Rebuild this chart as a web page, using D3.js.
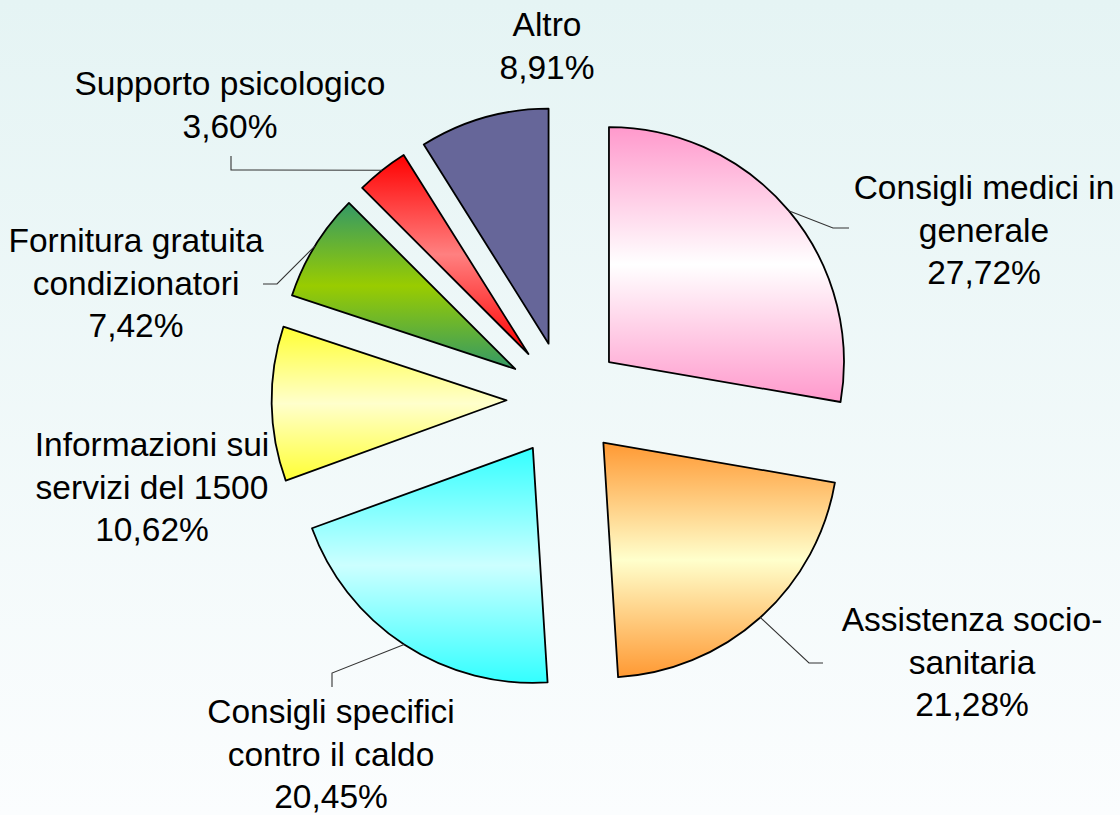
<!DOCTYPE html>
<html>
<head>
<meta charset="utf-8">
<script src="https://cdn.jsdelivr.net/npm/d3@7"></script>
<style>
  html, body { margin: 0; padding: 0; background: #fff; }
  svg { display: block; }
</style>
</head>
<body>
<svg id="chart" width="1120" height="815"></svg>
<script>
// ---- data ----
const categories = [
  "Consigli medici in generale",
  "Assistenza socio-sanitaria",
  "Consigli specifici contro il caldo",
  "Informazioni sui servizi del 1500",
  "Fornitura gratuita condizionatori",
  "Supporto psicologico",
  "Altro"
];
const values = [27.72, 21.28, 20.45, 10.62, 7.42, 3.60, 8.91];
const valueLabels = ["27,72%", "21,28%", "20,45%", "10,62%", "7,42%", "3,60%", "8,91%"];

// ---- layout / style (kept apart from data) ----
const labelLines = [
  ["Consigli medici in", "generale"],
  ["Assistenza socio-", "sanitaria"],
  ["Consigli specifici", "contro il caldo"],
  ["Informazioni sui", "servizi del 1500"],
  ["Fornitura gratuita", "condizionatori"],
  ["Supporto psicologico"],
  ["Altro"]
];
const labelAnchor = [[984, 199], [972, 631], [331, 723], [152, 456], [136, 252], [230, 95], [547, 36]];
const leaderPts = [
  [[833, 228], [849, 228]],
  [[809, 663], [823, 663]],
  [[332, 673], [332, 687]],
  null,
  [[277, 284], [263, 284]],
  [[231, 170], [231, 156]],
  null
];
const gradStops = [
  ["#ff99cc", "#ffffff"],
  ["#ff9933", "#ffffcc"],
  ["#33ffff", "#ccffff"],
  ["#ffff33", "#ffffcc"],
  ["#339966", "#99cc00"],
  ["#ff0000", "#ff8080"],
  ["#666699", "#666699"]
];
const cx = 564.6, cy = 399.4, R = 235, explode = 58;
const fontSize = 33.5, lineH = 42.5;

const svg = d3.select("#chart");
const defs = svg.append("defs");

const bg = defs.append("linearGradient").attr("id", "bg")
  .attr("x1", 0).attr("y1", 0).attr("x2", 0).attr("y2", 1);
bg.append("stop").attr("offset", 0).attr("stop-color", "#e5f4f4");
bg.append("stop").attr("offset", 1).attr("stop-color", "#fbfdfe");
svg.append("rect").attr("width", 1120).attr("height", 815).attr("fill", "url(#bg)");

gradStops.forEach((g, i) => {
  const lg = defs.append("linearGradient").attr("id", "g" + i)
    .attr("x1", 0).attr("y1", 0).attr("x2", 0).attr("y2", 1);
  lg.append("stop").attr("offset", 0).attr("stop-color", g[0]);
  lg.append("stop").attr("offset", 0.5).attr("stop-color", g[1]);
  lg.append("stop").attr("offset", 1).attr("stop-color", g[0]);
});

const pie = d3.pie().sort(null).value(d => d);
const arcs = pie(values);
const arc = d3.arc().innerRadius(0).outerRadius(R);

const g = svg.append("g").attr("transform", `translate(${cx},${cy})`);

arcs.forEach((a, i) => {
  const mid = (a.startAngle + a.endAngle) / 2;
  const ox = Math.sin(mid) * explode, oy = -Math.cos(mid) * explode;
  g.append("path")
    .attr("d", arc(a))
    .attr("transform", `translate(${ox},${oy})`)
    .attr("fill", `url(#g${i})`)
    .attr("stroke", "#000")
    .attr("stroke-width", 1.8)
    .attr("stroke-linejoin", "round");

  if (leaderPts[i]) {
    const sx = cx + ox + Math.sin(mid) * R;
    const sy = cy + oy - Math.cos(mid) * R;
    const pts = [[sx, sy]].concat(leaderPts[i]);
    svg.append("path")
      .attr("d", d3.line()(pts))
      .attr("fill", "none")
      .attr("stroke", "#333")
      .attr("stroke-width", 1.1);
  }
});

categories.forEach((c, i) => {
  const lines = labelLines[i].concat([valueLabels[i]]);
  const t = svg.append("text")
    .attr("x", labelAnchor[i][0])
    .attr("y", labelAnchor[i][1])
    .attr("text-anchor", "middle")
    .attr("font-family", "'Liberation Sans', Arial, sans-serif")
    .attr("font-size", fontSize)
    .attr("fill", "#000");
  lines.forEach((ln, k) => {
    t.append("tspan")
      .attr("x", labelAnchor[i][0])
      .attr("y", labelAnchor[i][1] + k * lineH)
      .text(ln);
  });
});
</script>
</body>
</html>
